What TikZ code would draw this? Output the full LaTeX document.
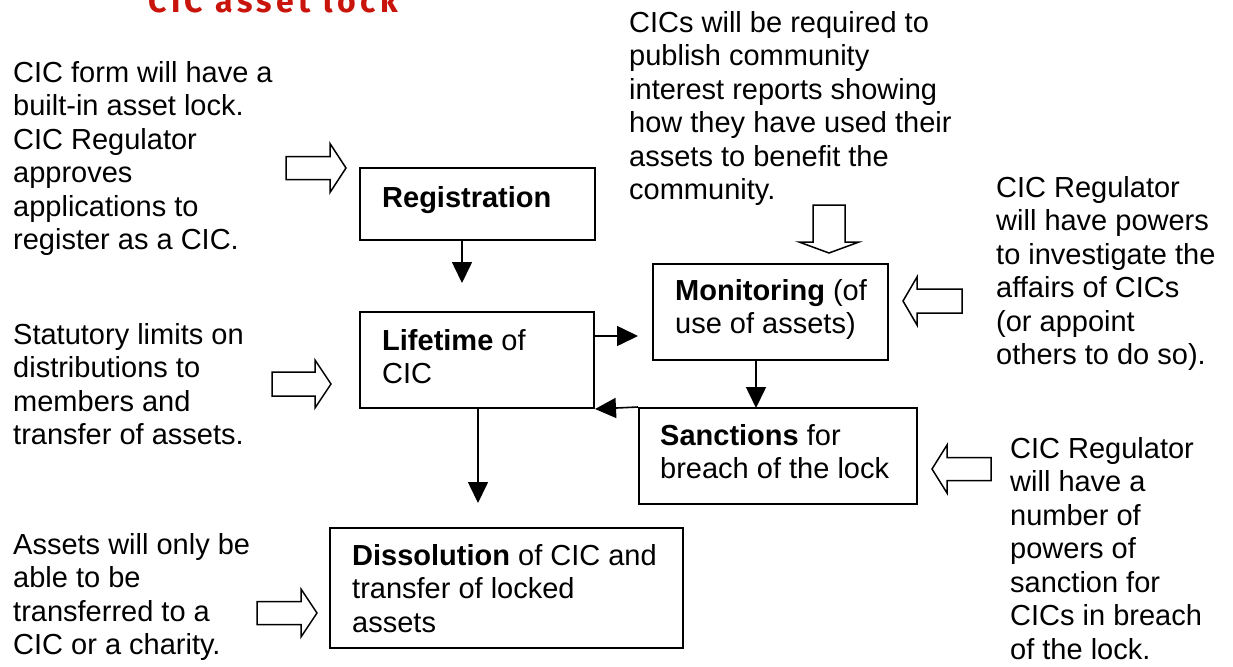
\documentclass[tikz,border=0pt]{standalone}
\usepackage{fontspec}
\setmainfont{Liberation Sans}
\newfontfamily\titlefont[LetterSpace=14]{Fira Sans}
\usetikzlibrary{arrows.meta,calc}
\definecolor{titlered}{RGB}{200,20,10}

% hollow block arrow: tip x, tip y, rotation, total length, shaft half-width, head half-width, head length
\newcommand\hollowarrow[7]{%
  \begin{scope}[shift={(#1,#2)},rotate=#3]
    \draw[blockarrow] (0,0) -- (-#7,#6) -- (-#7,#5) -- (-#4,#5) -- (-#4,-#5)
      -- (-#7,-#5) -- (-#7,-#6) -- cycle;
  \end{scope}}

\begin{document}
\begin{tikzpicture}[x=1pt,y=-1pt,
  every node/.style={font=\fontsize{29pt}{33.5pt}\selectfont},
  box/.style={draw,line width=2pt,rectangle,inner sep=0pt},
  % multi-line texts are placed by the baseline of their last line
  txt/.style={anchor=base west,align=left,inner sep=0pt},
  conn/.style={line width=1.6pt,-{Triangle[length=21pt,width=20pt]}},
  blockarrow/.style={draw,line width=1.5pt,fill=white,line join=miter}]
\useasboundingbox (0,0) rectangle (1233,666);

% title (runs off the top edge)
\node[anchor=base west,inner sep=0pt,text=titlered,font=\titlefont\bfseries\fontsize{32pt}{36pt}\selectfont]
  (title) at (148,13) {CIC asset lock};

% process boxes
\node[box,minimum width=235pt,minimum height=72pt]  (reg)  at (477.5,204) {};
\node[box,minimum width=234pt,minimum height=96pt]  (life) at (477,360) {};
\node[box,minimum width=235pt,minimum height=96pt]  (mon)  at (770.5,312) {};
\node[box,minimum width=278pt,minimum height=96pt]  (sanc) at (778,456) {};
\node[box,minimum width=353pt,minimum height=120pt] (diss) at (506.5,588) {};

% box captions
\node[txt] (regtxt)  at (382,207)   {\textbf{Registration}};
\node[txt] (lifetxt) at (382,383.5) {\textbf{Lifetime} of\\CIC};
\node[txt] (montxt)  at (675,333.5) {\textbf{Monitoring} (of\\use of assets)};
\node[txt] (sanctxt) at (660,478.5) {\textbf{Sanctions} for\\breach of the lock};
\node[txt] (disstxt) at (352,632)   {\textbf{Dissolution} of CIC and\\transfer of locked\\assets};

% explanatory notes
\node[txt] (note1) at (13,249.5) {CIC form will have a\\built-in asset lock.\\CIC Regulator\\approves\\applications to\\register as a CIC.};
\node[txt] (note2) at (13,444.5) {Statutory limits on\\distributions to\\members and\\transfer of assets.};
\node[txt] (note3) at (13,654.5) {Assets will only be\\able to be\\transferred to a\\CIC or a charity.};
\node[txt] (note4) at (629,199.5) {CICs will be required to\\publish community\\interest reports showing\\how they have used their\\assets to benefit the\\community.};
\node[txt] (note5) at (996,364.5) {CIC Regulator\\will have powers\\to investigate the\\affairs of CICs\\(or appoint\\others to do so).};
\node[txt] (note6) at (1010,659) {CIC Regulator\\will have a\\number of\\powers of\\sanction for\\CICs in breach\\of the lock.};

% flow between the stages
\coordinate (regend)  at (462,283);
\coordinate (monend)  at (638,336);
\coordinate (sancend) at (756,408);
\coordinate (dissend) at (478,503);
\draw[conn] (reg.south -| regend) -- (regend);
\draw[conn] (life.east |- monend) -- (monend);
\draw[conn] (mon.south -| sancend) -- (sancend);
\draw[conn] (sanc.north west) -- (life.south east);
\draw[conn] (life.south -| dissend) -- (dissend);

% hollow arrows from the notes
\hollowarrow{346}{168}{0}{60}{11.5}{24.5}{16}
\hollowarrow{331}{384}{0}{59}{12}{24}{16}
\hollowarrow{317}{613}{0}{60}{11.5}{24}{16}
\hollowarrow{829}{253}{-90}{48}{16}{30}{11}
\hollowarrow{903}{301}{180}{59}{12}{24}{14}
\hollowarrow{932}{469}{180}{59}{11.5}{24}{15}
\end{tikzpicture}
\end{document}
